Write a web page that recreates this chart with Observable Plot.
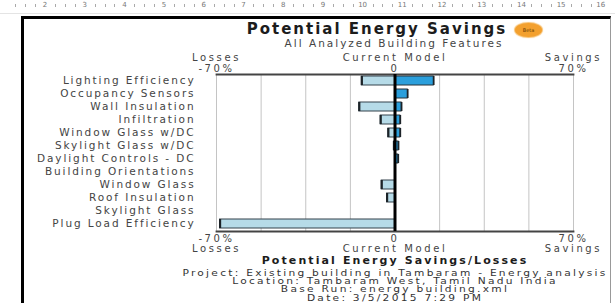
<!DOCTYPE html>
<html>
<head>
<meta charset="utf-8">
<script src="https://cdn.jsdelivr.net/npm/d3@7"></script>
<script src="https://cdn.jsdelivr.net/npm/@observablehq/plot@0.6"></script>
<style>
  html, body { margin: 0; padding: 0; background: #fff; }
  body { width: 615px; height: 303px; overflow: hidden; position: relative; font-family: "DejaVu Sans", sans-serif; color: #444; }
  .abs { position: absolute; }
  #ruler { left: 0; top: 0; width: 615px; height: 13px; border-bottom: 1px solid #e4e4e4; }
  #ruler span { position: absolute; top: 1px; font-size: 7px; color: #777; transform: translateX(-50%); }
  #ruler i { position: absolute; top: 4px; width: 1px; height: 3px; background: #aaa; }
  #frame { left: 21px; top: 16px; width: 586px; height: 300px; border-left: 3px solid #000; border-top: 3px solid #000; border-right: 1px solid #999; }
  .center { text-align: center; white-space: nowrap; }
  #title { left: 0; width: 754px; top: 20px; font-size: 15px; font-weight: bold; color: #1c1c1c; letter-spacing: 2px; }
  #badge { left: 515px; top: 23px; width: 27px; height: 14px; border-radius: 50%; background: #f3a02e; font-size: 5px; color: #6b3d00; text-align: center; line-height: 14px; box-shadow: 0 0 1px 1px #f7c070; }
  #subtitle { left: 0; width: 788px; top: 37px; font-size: 10.5px; letter-spacing: 2px; }
  #chart { left: 0; top: 48px; }
  #xtitle { left: 0; width: 790px; top: 254px; font-size: 11px; font-weight: bold; color: #1c1c1c; letter-spacing: 2.1px; }
  #footer { left: 0; width: 790px; top: 270px; font-size: 8px; line-height: 8.2px; letter-spacing: 1.7px; color: #333; transform: scaleX(1.33); transform-origin: 395px 0; }
</style>
</head>
<body>
<div id="ruler" class="abs"></div>
<div id="frame" class="abs"></div>
<div id="title" class="abs center">Potential Energy Savings</div>
<div id="badge" class="abs">Beta</div>
<div id="subtitle" class="abs center">All Analyzed Building Features</div>
<div id="chart" class="abs"></div>
<div id="xtitle" class="abs center">Potential Energy Savings/Losses</div>
<div id="footer" class="abs center"></div>
<script>
// ---- data ----
const categories = [
  "Lighting Efficiency",
  "Occupancy Sensors",
  "Wall Insulation",
  "Infiltration",
  "Window Glass w/DC",
  "Skylight Glass w/DC",
  "Daylight Controls - DC",
  "Building Orientations",
  "Window Glass",
  "Roof Insulation",
  "Skylight Glass",
  "Plug Load Efficiency"
];
const losses  = [-13, 0, -14, -5.6, -2.6, -0.4, 0, 0, -5.2, -3.1, 0, -68.6];
const savings = [15.2, 5, 2.6, 2.1, 2.1, 1.4, 1.3, 0, 0, 0, 0, 0];
const xTicks = [-70, 0, 70];
const topTickLabels = ["Losses\n-70%", "Current Model\n0", "Savings\n70%"];
const bottomTickLabels = ["-70%\nLosses", "0\nCurrent Model", "70%\nSavings"];
const gridValues = [-70, -52.5, -35, -17.5, 0, 17.5, 35, 52.5, 70];
const footerLines = [
  "Project: Existing building in Tambaram - Energy analysis",
  "Location: Tambaram West, Tamil Nadu India",
  "Base Run: energy building.xml",
  "Date: 3/5/2015 7:29 PM"
];
const rulerLabels = ["2","3","4","5","6","7","8","9","10","11","12","13","14","15","16"];

// ---- ruler (decoration) ----
const ruler = document.getElementById("ruler");
rulerLabels.forEach((t, i) => {
  const x = 45 + i * 39.7;
  const s = document.createElement("span");
  s.textContent = t; s.style.left = x + "px"; ruler.appendChild(s);
  for (let k = 1; k < 4; k++) {
    const m = document.createElement("i");
    m.style.left = (x - 39.7 + k * 9.9) + "px"; ruler.appendChild(m);
  }
});

document.getElementById("footer").innerHTML = footerLines.join("<br>");

// ---- chart ----
const rows = categories.map((c, i) => ({cat: c, loss: losses[i], save: savings[i]}));
const lossRows = rows.filter(d => d.loss < 0);
const saveRows = rows.filter(d => d.save > 0);

const chart = Plot.plot({
  width: 615,
  height: 210,
  marginLeft: 216,
  marginRight: 42,
  marginTop: 26,
  marginBottom: 27,
  style: {fontFamily: "DejaVu Sans", fontSize: "10.5px", color: "#444", background: "transparent", letterSpacing: "1.9px", overflow: "visible"},
  x: {domain: [-70, 70]},
  y: {domain: categories, paddingInner: 0.3, paddingOuter: 0.15},
  marks: [
    Plot.gridX(gridValues, {stroke: "#c4c4c4", strokeOpacity: 1, strokeWidth: 1}),
    Plot.frame({anchor: "top", stroke: "#444", strokeWidth: 1.8}),
    Plot.frame({anchor: "bottom", stroke: "#444", strokeWidth: 1.8}),
    Plot.barX(lossRows, {x1: 0, x2: "loss", y: "cat", fill: "#b6dbe8", stroke: "#34434c", strokeWidth: 1}),
    Plot.tickX(lossRows, {x: "loss", y: "cat", stroke: "#1c2328", strokeWidth: 2.2}),
    Plot.barX(saveRows, {x1: 0, x2: "save", y: "cat", fill: "#2b9fdc", stroke: "#26323a", strokeWidth: 1}),
    Plot.tickX(saveRows, {x: "save", y: "cat", stroke: "#1c2328", strokeWidth: 1.6}),
    Plot.ruleX([0], {stroke: "#000", strokeWidth: 3}),
    Plot.axisX({anchor: "top", ticks: xTicks, tickSize: 0, tickPadding: 3, label: null,
      tickFormat: v => topTickLabels[xTicks.indexOf(v)], lineHeight: 1.02, fill: "#444"}),
    Plot.axisX({anchor: "bottom", ticks: xTicks, tickSize: 0, tickPadding: 3, label: null,
      tickFormat: v => bottomTickLabels[xTicks.indexOf(v)], lineHeight: 1.02, fill: "#444"}),
    Plot.axisY({tickSize: 0, tickPadding: 21, label: null, fontSize: 10.5, fill: "#444"})
  ]
});
d3.select(chart).selectAll('g[aria-label="x-axis tick label"]')
  .style("letter-spacing", "2.6px").style("font-size", "10px");
document.getElementById("chart").appendChild(chart);
</script>
</body>
</html>
